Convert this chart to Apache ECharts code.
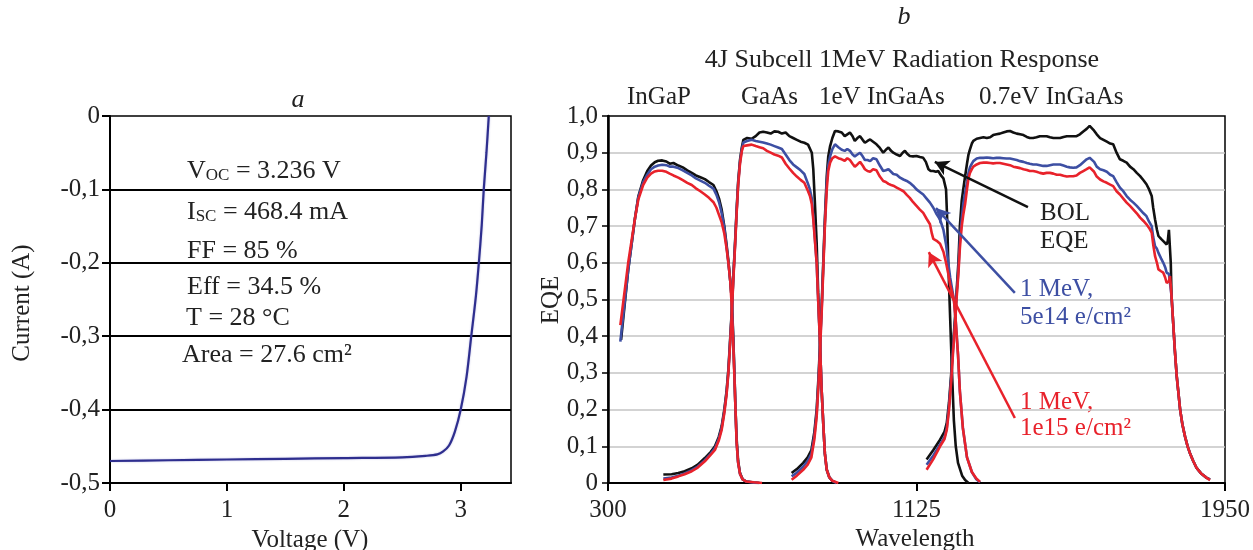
<!DOCTYPE html>
<html><head><meta charset="utf-8">
<script src="https://cdn.jsdelivr.net/npm/echarts@6/dist/echarts.min.js"></script>
<style>html,body{margin:0;padding:0;background:#fff}#c{width:1253px;height:550px}</style>
</head><body><div id="c"></div>
<script>
// ---------- Panel a: I-V curve ----------
const ivVoltage = [0, 0.5, 1.0, 1.5, 2.0, 2.5, 2.7, 2.8, 2.85, 2.9, 2.95, 3.0, 3.05, 3.09, 3.13, 3.155, 3.18, 3.197, 3.22, 3.24];
const ivCurrent = [-0.470, -0.469, -0.468, -0.467, -0.466, -0.465, -0.463, -0.461, -0.457, -0.449, -0.43, -0.4, -0.355, -0.3, -0.245, -0.2, -0.148, -0.1, -0.05, 0];
const ivXTicks = [0, 1, 2, 3];

// ---------- Panel b: EQE curves [wavelength, EQE] ----------
const bolInGaP = [[335,0.39],[354,0.58],[372,0.72],[381,0.78],[394,0.825],[405,0.85],[415,0.865],[425,0.874],[434,0.878],[445,0.879],[456,0.876],[465,0.87],[475,0.872],[488,0.865],[500,0.86],[512,0.852],[524,0.845],[535,0.838],[547,0.833],[559,0.828],[570,0.82],[582,0.812],[590,0.795],[597,0.775],[604,0.745],[611,0.7],[617,0.65],[622,0.605],[627,0.55],[631,0.5],[635,0.4],[638,0.3],[641,0.2],[644,0.12],[648,0.06],[653,0.027],[660,0.01],[670,0.004],[690,0.001],[705,0]];
const m5e14InGaP = [[333,0.385],[354,0.58],[372,0.72],[381,0.778],[394,0.82],[405,0.84],[415,0.855],[425,0.862],[434,0.865],[445,0.867],[456,0.866],[465,0.862],[475,0.862],[488,0.858],[500,0.852],[512,0.845],[524,0.838],[535,0.83],[547,0.824],[559,0.818],[570,0.81],[582,0.802],[590,0.785],[597,0.765],[604,0.735],[611,0.695],[617,0.645],[622,0.6],[627,0.55],[631,0.5],[635,0.39],[638,0.3],[641,0.2],[644,0.11],[648,0.055],[653,0.025],[660,0.01],[670,0.004],[690,0.001],[705,0]];
const m1e15InGaP = [[333,0.43],[354,0.6],[372,0.72],[381,0.772],[394,0.812],[405,0.832],[415,0.843],[425,0.849],[434,0.851],[445,0.851],[456,0.848],[465,0.843],[475,0.838],[488,0.832],[500,0.825],[512,0.818],[524,0.812],[535,0.803],[547,0.795],[559,0.786],[570,0.777],[582,0.765],[590,0.75],[597,0.73],[604,0.71],[611,0.68],[617,0.64],[622,0.6],[627,0.55],[631,0.48],[635,0.38],[638,0.29],[641,0.2],[644,0.11],[648,0.055],[653,0.025],[660,0.01],[670,0.004],[690,0.002],[712,0]];

const bolGaAs = [[448,0.023],[470,0.024],[488,0.027],[505,0.032],[524,0.04],[540,0.05],[559,0.068],[575,0.085],[586,0.1],[596,0.125],[604,0.155],[611,0.2],[617,0.25],[622,0.31],[626,0.38],[631,0.47],[635,0.56],[640,0.66],[644,0.745],[648,0.82],[653,0.88],[658,0.915],[662,0.935],[672,0.94],[684,0.938],[695,0.945],[705,0.955],[715,0.957],[725,0.955],[735,0.952],[745,0.958],[755,0.957],[765,0.952],[775,0.955],[785,0.945],[795,0.94],[805,0.935],[815,0.93],[825,0.927],[835,0.922],[840,0.918],[845,0.9],[849,0.855],[853,0.77],[858,0.655],[862,0.52],[867,0.38],[871,0.26],[876,0.155],[880,0.08],[885,0.036],[892,0.015],[900,0.006],[911,0]];
const m5e14GaAs = [[448,0.012],[470,0.015],[488,0.02],[505,0.026],[524,0.035],[540,0.045],[559,0.062],[575,0.08],[586,0.095],[596,0.12],[604,0.15],[611,0.195],[617,0.245],[622,0.305],[626,0.375],[631,0.465],[635,0.555],[640,0.655],[644,0.74],[648,0.815],[653,0.875],[658,0.91],[662,0.928],[672,0.932],[684,0.935],[695,0.932],[705,0.93],[715,0.928],[725,0.925],[735,0.922],[745,0.918],[755,0.914],[765,0.91],[775,0.895],[785,0.88],[795,0.868],[805,0.86],[815,0.852],[825,0.842],[835,0.815],[840,0.8],[845,0.775],[849,0.727],[853,0.67],[858,0.6],[862,0.5],[867,0.38],[871,0.26],[876,0.155],[880,0.08],[885,0.036],[892,0.015],[900,0.006],[911,0]];
const m1e15GaAs = [[448,0.008],[470,0.012],[488,0.018],[505,0.024],[524,0.032],[540,0.042],[559,0.059],[575,0.077],[586,0.09],[596,0.115],[604,0.145],[611,0.19],[617,0.24],[622,0.3],[626,0.37],[631,0.46],[635,0.55],[640,0.65],[644,0.735],[648,0.81],[653,0.87],[658,0.905],[662,0.918],[672,0.92],[684,0.922],[695,0.918],[705,0.915],[715,0.912],[725,0.905],[735,0.9],[745,0.895],[755,0.892],[765,0.887],[775,0.87],[785,0.857],[795,0.845],[805,0.835],[815,0.826],[825,0.818],[835,0.795],[840,0.782],[845,0.76],[849,0.718],[853,0.665],[858,0.6],[862,0.5],[867,0.38],[871,0.26],[876,0.155],[880,0.08],[885,0.036],[892,0.015],[900,0.006],[916,0]];

const bolInGaAs1 = [[791,0.027],[805,0.038],[822,0.055],[834,0.07],[844,0.09],[852,0.14],[858,0.2],[863,0.29],[867,0.38],[872,0.5],[876,0.61],[880,0.72],[885,0.836],[889,0.89],[894,0.918],[900,0.94],[907,0.959],[916,0.958],[925,0.955],[933,0.945],[940,0.95],[947,0.955],[954,0.945],[960,0.932],[967,0.94],[974,0.945],[981,0.935],[987,0.927],[994,0.932],[1001,0.936],[1009,0.93],[1018,0.923],[1027,0.913],[1036,0.9],[1043,0.908],[1050,0.914],[1057,0.905],[1063,0.9],[1072,0.895],[1081,0.891],[1088,0.9],[1094,0.905],[1100,0.897],[1107,0.891],[1116,0.89],[1125,0.891],[1134,0.888],[1143,0.886],[1150,0.875],[1157,0.855],[1163,0.85],[1170,0.85],[1177,0.848],[1183,0.85],[1188,0.845],[1192,0.836],[1197,0.83],[1201,0.827],[1204,0.8],[1207,0.72],[1210,0.6],[1215,0.45],[1220,0.3],[1225,0.17],[1230,0.1],[1236,0.055],[1247,0.02],[1255,0.008],[1264,0]];
const m5e14InGaAs1 = [[791,0.018],[805,0.028],[822,0.045],[834,0.06],[844,0.08],[852,0.13],[858,0.19],[863,0.28],[867,0.37],[872,0.49],[876,0.6],[880,0.71],[885,0.82],[889,0.865],[894,0.89],[900,0.91],[907,0.923],[916,0.915],[925,0.908],[933,0.905],[940,0.91],[947,0.905],[954,0.895],[960,0.89],[967,0.895],[974,0.9],[981,0.89],[987,0.88],[994,0.88],[1001,0.877],[1009,0.885],[1018,0.882],[1027,0.865],[1036,0.85],[1043,0.852],[1050,0.855],[1057,0.848],[1063,0.842],[1072,0.84],[1081,0.832],[1090,0.827],[1099,0.823],[1107,0.818],[1116,0.81],[1125,0.8],[1134,0.793],[1143,0.786],[1152,0.775],[1161,0.764],[1170,0.75],[1179,0.732],[1188,0.718],[1197,0.69],[1204,0.65],[1210,0.6],[1215,0.56],[1220,0.53],[1225,0.5],[1230,0.44],[1236,0.35],[1241,0.25],[1249,0.15],[1260,0.07],[1273,0.03],[1285,0.01],[1295,0.002]];
const m1e15InGaAs1 = [[791,0.009],[805,0.02],[822,0.036],[834,0.05],[844,0.07],[852,0.12],[858,0.18],[863,0.27],[867,0.36],[872,0.48],[876,0.59],[880,0.7],[885,0.8],[889,0.85],[894,0.873],[900,0.885],[907,0.89],[916,0.885],[925,0.882],[933,0.878],[940,0.885],[947,0.88],[954,0.87],[960,0.862],[967,0.868],[974,0.875],[981,0.865],[987,0.855],[994,0.85],[1001,0.848],[1009,0.855],[1018,0.852],[1027,0.835],[1036,0.823],[1043,0.82],[1050,0.815],[1057,0.812],[1063,0.81],[1072,0.805],[1081,0.8],[1090,0.795],[1099,0.785],[1107,0.777],[1116,0.765],[1125,0.755],[1134,0.745],[1143,0.736],[1152,0.72],[1161,0.705],[1166,0.68],[1170,0.665],[1179,0.66],[1188,0.652],[1197,0.63],[1204,0.6],[1210,0.57],[1215,0.54],[1220,0.52],[1225,0.5],[1230,0.44],[1236,0.35],[1241,0.25],[1249,0.15],[1260,0.07],[1273,0.03],[1285,0.012],[1295,0.003]];

const bolInGaAs07 = [[1152,0.064],[1170,0.09],[1188,0.118],[1200,0.14],[1206,0.164],[1212,0.22],[1218,0.3],[1223,0.38],[1228,0.45],[1232,0.518],[1237,0.6],[1241,0.7],[1246,0.77],[1250,0.8],[1255,0.836],[1260,0.87],[1264,0.895],[1268,0.909],[1273,0.925],[1277,0.932],[1286,0.938],[1295,0.94],[1304,0.942],[1313,0.94],[1322,0.942],[1330,0.948],[1339,0.95],[1348,0.952],[1357,0.955],[1366,0.958],[1375,0.959],[1384,0.955],[1393,0.952],[1402,0.95],[1411,0.948],[1420,0.943],[1428,0.94],[1437,0.94],[1446,0.942],[1455,0.945],[1464,0.945],[1473,0.945],[1482,0.942],[1491,0.94],[1500,0.94],[1509,0.94],[1518,0.943],[1527,0.945],[1535,0.945],[1544,0.945],[1553,0.945],[1562,0.95],[1571,0.958],[1580,0.965],[1588,0.973],[1593,0.972],[1600,0.96],[1607,0.95],[1616,0.94],[1625,0.935],[1634,0.93],[1643,0.925],[1651,0.923],[1660,0.9],[1669,0.882],[1678,0.878],[1687,0.873],[1696,0.862],[1705,0.855],[1714,0.845],[1723,0.836],[1732,0.825],[1740,0.814],[1747,0.8],[1754,0.782],[1758,0.75],[1763,0.718],[1768,0.69],[1772,0.673],[1779,0.665],[1785,0.659],[1790,0.655],[1794,0.65],[1797,0.66],[1800,0.69],[1803,0.695],[1805,0.6],[1807,0.51],[1812,0.427],[1816,0.36],[1821,0.29],[1826,0.24],[1830,0.2],[1836,0.16],[1843,0.127],[1850,0.1],[1856,0.082],[1865,0.06],[1874,0.041],[1887,0.025],[1901,0.014],[1910,0.01]];
const m5e14InGaAs07 = [[1152,0.05],[1170,0.075],[1188,0.105],[1200,0.125],[1206,0.15],[1212,0.21],[1218,0.29],[1223,0.37],[1228,0.44],[1232,0.51],[1237,0.58],[1241,0.66],[1246,0.72],[1250,0.76],[1255,0.79],[1260,0.82],[1264,0.845],[1268,0.86],[1273,0.87],[1277,0.877],[1286,0.884],[1295,0.886],[1304,0.886],[1313,0.887],[1322,0.886],[1330,0.885],[1339,0.886],[1348,0.886],[1357,0.885],[1366,0.884],[1375,0.884],[1384,0.882],[1393,0.88],[1402,0.877],[1411,0.875],[1420,0.872],[1428,0.87],[1437,0.868],[1446,0.868],[1455,0.866],[1464,0.864],[1473,0.864],[1482,0.866],[1491,0.868],[1500,0.868],[1509,0.868],[1518,0.865],[1527,0.862],[1535,0.86],[1544,0.859],[1553,0.86],[1562,0.866],[1571,0.874],[1580,0.882],[1588,0.886],[1593,0.885],[1600,0.875],[1607,0.862],[1616,0.855],[1625,0.852],[1634,0.848],[1643,0.84],[1651,0.836],[1660,0.82],[1669,0.805],[1678,0.795],[1687,0.782],[1696,0.772],[1705,0.764],[1714,0.755],[1723,0.745],[1732,0.735],[1740,0.727],[1747,0.712],[1754,0.7],[1758,0.67],[1763,0.645],[1768,0.638],[1772,0.627],[1779,0.612],[1785,0.6],[1790,0.588],[1794,0.573],[1800,0.57],[1803,0.568],[1807,0.51],[1812,0.427],[1816,0.36],[1821,0.29],[1826,0.24],[1830,0.2],[1836,0.16],[1843,0.127],[1850,0.1],[1856,0.082],[1865,0.06],[1874,0.041],[1887,0.025],[1901,0.014],[1910,0.01]];
const m1e15InGaAs07 = [[1152,0.036],[1170,0.065],[1188,0.1],[1200,0.12],[1206,0.145],[1212,0.2],[1218,0.28],[1223,0.36],[1228,0.43],[1232,0.5],[1237,0.57],[1241,0.64],[1246,0.7],[1250,0.73],[1255,0.76],[1260,0.8],[1264,0.83],[1268,0.845],[1273,0.855],[1277,0.862],[1286,0.868],[1295,0.872],[1304,0.873],[1313,0.873],[1322,0.872],[1330,0.871],[1339,0.872],[1348,0.872],[1357,0.87],[1366,0.868],[1375,0.866],[1384,0.862],[1393,0.86],[1402,0.858],[1411,0.855],[1420,0.853],[1428,0.85],[1437,0.85],[1446,0.848],[1455,0.845],[1464,0.843],[1473,0.845],[1482,0.845],[1491,0.843],[1500,0.84],[1509,0.84],[1518,0.837],[1527,0.835],[1535,0.836],[1544,0.836],[1553,0.838],[1562,0.845],[1571,0.85],[1580,0.855],[1588,0.86],[1593,0.858],[1600,0.848],[1607,0.835],[1616,0.827],[1625,0.822],[1634,0.818],[1643,0.813],[1651,0.809],[1660,0.795],[1669,0.786],[1678,0.775],[1687,0.764],[1696,0.755],[1705,0.745],[1714,0.735],[1723,0.723],[1732,0.714],[1740,0.705],[1747,0.695],[1754,0.682],[1758,0.65],[1763,0.618],[1768,0.6],[1772,0.582],[1779,0.577],[1785,0.573],[1790,0.56],[1794,0.545],[1800,0.55],[1803,0.564],[1807,0.51],[1812,0.427],[1816,0.36],[1821,0.29],[1826,0.24],[1830,0.2],[1836,0.16],[1843,0.127],[1850,0.1],[1856,0.082],[1865,0.06],[1874,0.041],[1887,0.025],[1901,0.014],[1910,0.008]];

// Annotation arrows [tail, head] in data coordinates
const arrowBOL = [[1423, 0.752], [1174, 0.875]];
const arrow5e14 = [[1388, 0.518], [1177, 0.749]];
const arrow1e15 = [[1388, 0.177], [1158, 0.629]];

const subcellLabels = ['InGaP', 'GaAs', '1eV InGaAs', '0.7eV InGaAs'];
const wlTicks = [300, 1125, 1950];

const SERIF = '"Liberation Serif", "DejaVu Serif", serif';
const FS = 25;      // tick labels, axis titles
const FA = 26;      // annotation / title text
const BLACK = '#111111', BLUE = '#3d4fa3', RED = '#e8222b';

const chart = echarts.init(document.getElementById('c'), null, {renderer: 'canvas'});

function commaFmt(v) {
  if (Math.abs(v) < 1e-9) return '0';
  return v.toFixed(1).replace('.', ',');
}

function eqeSeries(data, color) {
  return {
    type: 'line', xAxisIndex: 1, yAxisIndex: 1, data: data,
    showSymbol: false, symbol: 'none', smooth: false,
    lineStyle: {color: color, width: 2.6}, z: 3
  };
}

const txt = (text, x, y, opts, extra) => Object.assign({
  type: 'text', x: x, y: y, silent: true,
  style: Object.assign({text: text, fontFamily: SERIF, fontSize: FA, fill: '#222', align: 'left', verticalAlign: 'middle'}, opts || {})
}, extra || {});

const subRich = {sub: {fontFamily: SERIF, fontSize: 17, fill: '#222', lineHeight: 22, verticalAlign: 'bottom'}};

const option = {
  animation: false,
  backgroundColor: '#fff',
  grid: [
    {left: 110, right: 742, top: 116, bottom: 67, show: true, borderColor: '#000', borderWidth: 1.5, backgroundColor: 'transparent'},
    {left: 608, right: 28, top: 116, bottom: 67, show: true, borderColor: '#000', borderWidth: 1.5, backgroundColor: 'transparent'}
  ],
  xAxis: [
    {type: 'value', gridIndex: 0, min: 0, max: 3.43, interval: 1,
      axisLine: {show: true, onZero: false, lineStyle: {color: '#000', width: 2}},
      axisTick: {show: true, length: 8, customValues: ivXTicks, lineStyle: {color: '#000', width: 2}},
      axisLabel: {customValues: ivXTicks, margin: 15, fontFamily: SERIF, fontSize: FS, color: '#222', formatter: v => String(v)},
      splitLine: {show: false}},
    {type: 'value', gridIndex: 1, min: 300, max: 1950, interval: 825,
      axisLine: {show: true, onZero: false, lineStyle: {color: '#000', width: 2}},
      axisTick: {show: true, length: 8, customValues: wlTicks, lineStyle: {color: '#000', width: 2}},
      axisLabel: {customValues: wlTicks, margin: 15, fontFamily: SERIF, fontSize: FS, color: '#222', formatter: v => String(v)},
      splitLine: {show: false}}
  ],
  yAxis: [
    {type: 'value', gridIndex: 0, min: -0.5, max: 0, interval: 0.1,
      axisLine: {show: true, onZero: false, lineStyle: {color: '#000', width: 2}},
      axisTick: {show: true, length: 8, lineStyle: {color: '#000', width: 2}},
      axisLabel: {margin: 10, fontFamily: SERIF, fontSize: FS, color: '#222', formatter: commaFmt},
      splitLine: {show: true, showMinLine: false, showMaxLine: false, lineStyle: {color: '#000', width: 2}}},
    {type: 'value', gridIndex: 1, min: 0, max: 1, interval: 0.1,
      axisLine: {show: true, onZero: false, lineStyle: {color: '#000', width: 2.5}},
      axisTick: {show: true, length: 6, lineStyle: {color: '#000', width: 1.5}},
      axisLabel: {margin: 10, fontFamily: SERIF, fontSize: FS, color: '#222', formatter: commaFmt},
      splitLine: {show: true, showMinLine: false, showMaxLine: false, lineStyle: {color: '#c4c4c4', width: 1.6}}}
  ],
  series: [
    {type: 'line', xAxisIndex: 0, yAxisIndex: 0,
      data: ivVoltage.map((v, i) => [v, ivCurrent[i]]),
      showSymbol: false, symbol: 'none', smooth: 0.3,
      lineStyle: {color: '#2e2e8e', width: 2.2, shadowColor: 'rgba(60,60,170,0.35)', shadowBlur: 2}, z: 3},
    eqeSeries(bolInGaP, BLACK), eqeSeries(bolGaAs, BLACK), eqeSeries(bolInGaAs1, BLACK), eqeSeries(bolInGaAs07, BLACK),
    eqeSeries(m5e14InGaP, BLUE), eqeSeries(m5e14GaAs, BLUE), eqeSeries(m5e14InGaAs1, BLUE), eqeSeries(m5e14InGaAs07, BLUE),
    eqeSeries(m1e15InGaP, RED), eqeSeries(m1e15GaAs, RED), eqeSeries(m1e15InGaAs1, RED), eqeSeries(m1e15InGaAs07, RED),
    {type: 'line', xAxisIndex: 1, yAxisIndex: 1, data: [], showSymbol: false,
      markLine: {
        silent: true, animation: false, symbol: ['none', 'arrow'], symbolSize: [12, 14],
        label: {show: false},
        data: [
          [{coord: arrowBOL[0], lineStyle: {color: '#111', width: 2.5, type: 'solid'}}, {coord: arrowBOL[1]}],
          [{coord: arrow5e14[0], lineStyle: {color: BLUE, width: 2.5, type: 'solid'}}, {coord: arrow5e14[1]}],
          [{coord: arrow1e15[0], lineStyle: {color: RED, width: 2.5, type: 'solid'}}, {coord: arrow1e15[1]}]
        ]
      }}
  ],
  graphic: [
    txt('a', 298, 100, {fontStyle: 'italic', align: 'center'}),
    txt('b', 904, 17, {fontStyle: 'italic', align: 'center'}),
    txt('4J Subcell 1MeV Radiation Response', 902, 60, {align: 'center'}),
    txt(subcellLabels[0], 627, 97, {fontSize: FS}),
    txt(subcellLabels[1], 741, 97, {fontSize: FS}),
    txt(subcellLabels[2], 819, 97, {fontSize: FS}),
    txt(subcellLabels[3], 979, 97, {fontSize: FS}),
    txt('Current (A)', 22, 303, {align: 'center', fontSize: FS}, {rotation: Math.PI / 2}),
    txt('Voltage (V)', 310, 540, {align: 'center', fontSize: FS}),
    txt('Wavelength', 915, 539, {align: 'center', fontSize: FS}),
    txt('EQE', 551, 300, {align: 'center', fontSize: FS}, {rotation: Math.PI / 2}),
    txt('V{sub|OC} = 3.236 V', 187, 171, {rich: subRich}),
    txt('I{sub|SC} = 468.4 mA', 187, 212, {rich: subRich}),
    txt('FF = 85 %', 187, 251),
    txt('Eff = 34.5 %', 187, 287),
    txt('T = 28 °C', 186, 318),
    txt('Area = 27.6 cm²', 182, 355),
    txt('BOL', 1040, 213, {fontSize: FS}),
    txt('EQE', 1040, 241, {fontSize: FS}),
    txt('1 MeV,', 1020, 289, {fill: BLUE, fontSize: FS}),
    txt('5e14 e/cm²', 1020, 317, {fill: BLUE, fontSize: FS}),
    txt('1 MeV,', 1020, 402, {fill: RED, fontSize: FS}),
    txt('1e15 e/cm²', 1020, 428, {fill: RED, fontSize: FS})
  ]
};
chart.setOption(option);
</script></body></html>
